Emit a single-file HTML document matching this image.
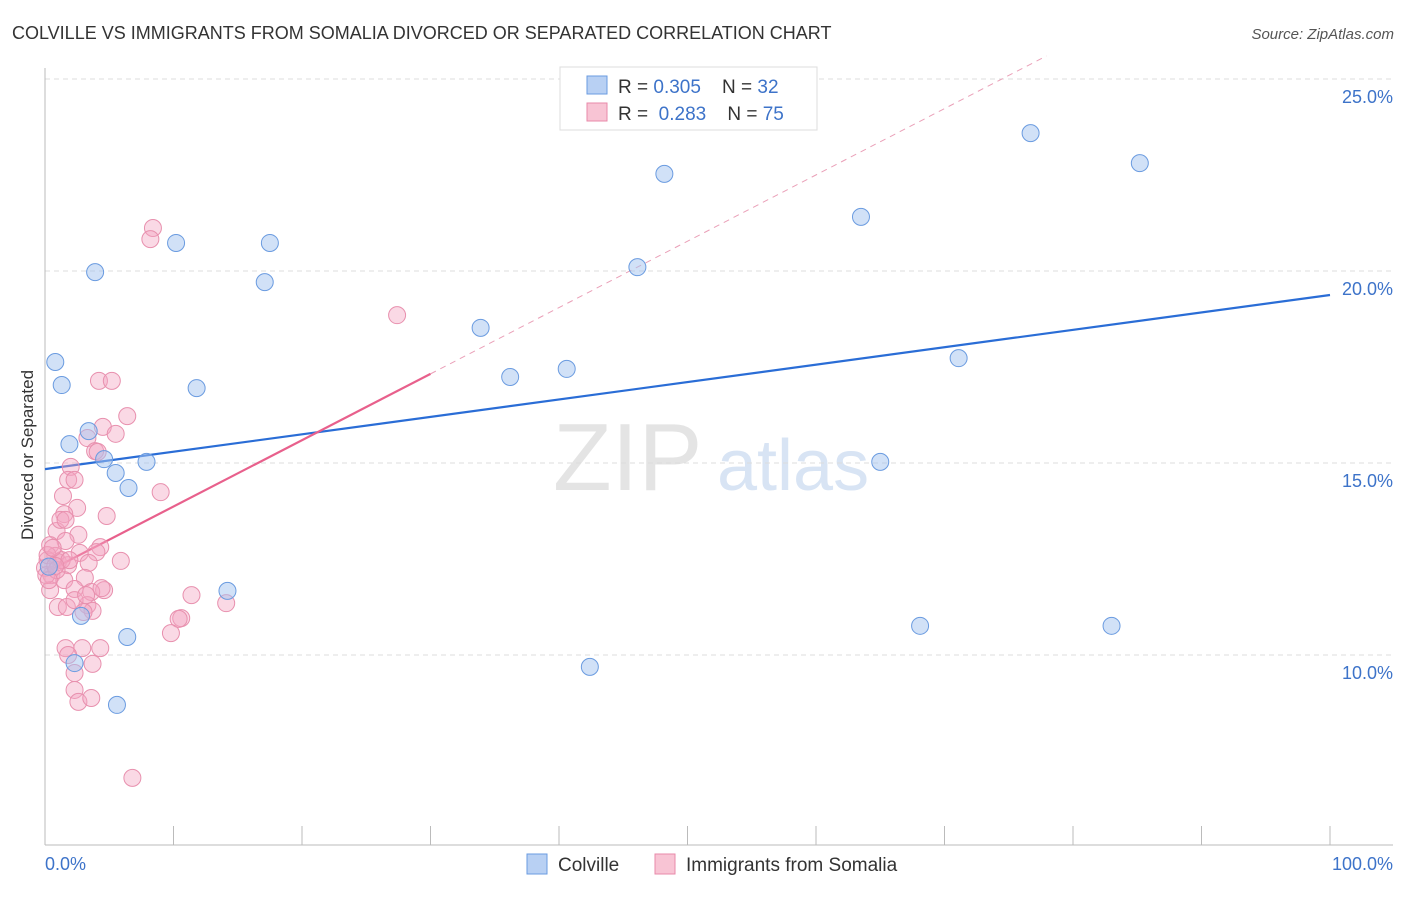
<!DOCTYPE html>
<html><head><meta charset="utf-8"><style>
body{margin:0;background:#fff;font-family:"Liberation Sans",sans-serif}
svg text{font-family:"Liberation Sans",sans-serif}
</style></head><body>
<svg id="chart" width="1406" height="892" viewBox="0 0 1406 892">
<text x="12" y="39" font-size="18" fill="#333">COLVILLE VS IMMIGRANTS FROM SOMALIA DIVORCED OR SEPARATED CORRELATION CHART</text>
<text x="1394" y="39" font-size="15" fill="#555" font-style="italic" text-anchor="end">Source: ZipAtlas.com</text>
<text x="553" y="490" font-size="96" fill="#e4e4e4" font-family="Liberation Serif">ZIP</text>
<text x="717" y="490" font-size="72" fill="#d8e4f4">atlas</text>
<g id="grid"></g><g id="axes"></g><g id="lines"></g><g id="pts"></g>
<text transform="translate(33,455) rotate(-90)" font-size="17" fill="#333" text-anchor="middle">Divorced or Separated</text>
<text x="45" y="870" font-size="18" fill="#3d73c9">0.0%</text>
<text x="1393" y="870" font-size="18" fill="#3d73c9" text-anchor="end">100.0%</text>
<g>
<rect x="560" y="67" width="257" height="63" fill="#fff" stroke="#ddd"/>
<rect x="587" y="76" width="20" height="18" fill="#b8d0f3" stroke="#6a9be0"/>
<rect x="587" y="103" width="20" height="18" fill="#f8c4d4" stroke="#e88aaa"/>
<text x="618" y="93" font-size="19" fill="#333">R = <tspan fill="#3d73c9">0.305</tspan>&#160;&#160;&#160;&#160;N = <tspan fill="#3d73c9">32</tspan></text>
<text x="618" y="120" font-size="19" fill="#333">R = &#160;<tspan fill="#3d73c9">0.283</tspan>&#160;&#160;&#160;&#160;N = <tspan fill="#3d73c9">75</tspan></text>
</g>
<g>
<rect x="527" y="854" width="20" height="20" fill="#b8d0f3" stroke="#6a9be0"/>
<text x="558" y="871" font-size="19" fill="#333">Colville</text>
<rect x="655" y="854" width="20" height="20" fill="#f8c4d4" stroke="#e88aaa"/>
<text x="686" y="871" font-size="19" fill="#333">Immigrants from Somalia</text>
</g>
</svg>
<script>
const yTicks=[10,15,20,25];
const yTickLabels=["10.0%","15.0%","20.0%","25.0%"];
const colvilleX=[0.8,1.3,3.9,10.2,17.5,17.1,11.8,3.4,1.9,4.6,5.5,7.9,6.5,48.2,46.1,33.9,36.2,40.6,76.7,85.2,63.5,71.1,65.0,14.2,2.8,6.4,2.3,5.6,68.1,83.0,42.4,0.3];
const colvilleY=[17.63,17.03,19.97,20.73,20.73,19.71,16.95,15.83,15.49,15.10,14.74,15.03,14.35,22.53,20.10,18.52,17.24,17.45,23.59,22.81,21.41,17.73,15.03,11.67,11.02,10.47,9.79,8.70,10.76,10.76,9.69,12.3];
const somaliaX=[8.4,8.2,27.4,4.2,5.2,6.4,4.5,5.5,3.3,3.9,4.1,2.0,1.8,2.3,9.0,1.4,2.5,1.5,4.8,0.9,2.6,1.6,0.4,4.3,4.0,2.7,5.9,0.8,0.2,1.0,0.0,1.8,3.4,0.5,3.1,1.5,4.6,2.3,0.4,3.6,11.4,14.1,1.0,3.3,1.7,3.7,10.6,10.4,9.8,1.6,2.9,4.3,1.8,3.7,2.3,2.3,2.6,3.6,6.8,0.1,0.2,0.9,1.3,0.6,0.3,2.3,3.0,1.2,1.9,3.2,4.4,1.6,0.8];
const somaliaY=[21.12,20.83,18.85,17.14,17.14,16.22,15.94,15.76,15.65,15.31,15.29,14.90,14.56,14.56,14.24,14.14,13.83,13.67,13.62,13.23,13.13,12.97,12.86,12.81,12.68,12.66,12.45,12.58,12.47,12.42,12.27,12.34,12.40,12.08,12.01,11.95,11.69,11.72,11.69,11.64,11.56,11.35,11.25,11.30,11.25,11.15,10.96,10.94,10.57,10.18,10.18,10.18,10.00,9.77,9.53,9.09,8.78,8.88,6.80,12.08,12.60,12.21,12.47,12.79,11.95,11.43,11.12,13.52,12.47,11.56,11.74,13.52,12.32];
const colvilleTrend=[14.84,19.375];
const somaliaTrend=[12.14,0.1727];
const NS="http://www.w3.org/2000/svg";
const X=v=>45+v*12.85, Y=v=>1039-v*38.4;
function mk(tag,attrs,parent){const e=document.createElementNS(NS,tag);for(const k in attrs)e.setAttribute(k,attrs[k]);document.getElementById(parent).appendChild(e);return e;}
yTicks.forEach((t,i)=>{
 const g=mk('line',{x1:45,x2:1393,y1:Y(t),y2:Y(t),stroke:'#ddd','stroke-dasharray':'5,4'},'grid');
 
 
 const l=mk('text',{x:1393,y:Y(t)+24,'font-size':18,fill:'#3d73c9','text-anchor':'end'},'grid');
 l.textContent=yTickLabels[i];
 
 
});
const ax=mk('line',{x1:45,x2:1393,y1:845,y2:845,stroke:'#bbb'},'axes');


const ay=mk('line',{x1:45,x2:45,y1:68,y2:845,stroke:'#bbb'},'axes');


for(let k=0;k<=10;k++){const t=mk('line',{x1:X(k*10),x2:X(k*10),y1:826,y2:845,stroke:'#bbb'},'axes');
 
 }
const bl=mk('line',{x1:X(0),y1:Y(colvilleTrend[0]),x2:X(100),y2:Y(colvilleTrend[1]),stroke:'#2a6dd6','stroke-width':2.2},'lines');


const xEnd=(25.6-somaliaTrend[0])/somaliaTrend[1];
const pd=mk('line',{x1:X(30),y1:Y(somaliaTrend[0]+30*somaliaTrend[1]),x2:X(xEnd),y2:Y(25.6),stroke:'#eaa0b8','stroke-width':1,'stroke-dasharray':'6,5'},'lines');


const pl=mk('line',{x1:X(0),y1:Y(somaliaTrend[0]),x2:X(30),y2:Y(somaliaTrend[0]+30*somaliaTrend[1]),stroke:'#e8608c','stroke-width':2.2},'lines');


somaliaX.forEach((x,i)=>{const c=mk('circle',{cx:X(x),cy:Y(somaliaY[i]),r:8.5,fill:'rgba(244,165,192,0.42)',stroke:'#e890ae','stroke-width':1},'pts');
 
 });
colvilleX.forEach((x,i)=>{const c=mk('circle',{cx:X(x),cy:Y(colvilleY[i]),r:8.5,fill:'rgba(164,196,240,0.5)',stroke:'#6a9be0','stroke-width':1},'pts');
 
 });
</script>
</body></html>
